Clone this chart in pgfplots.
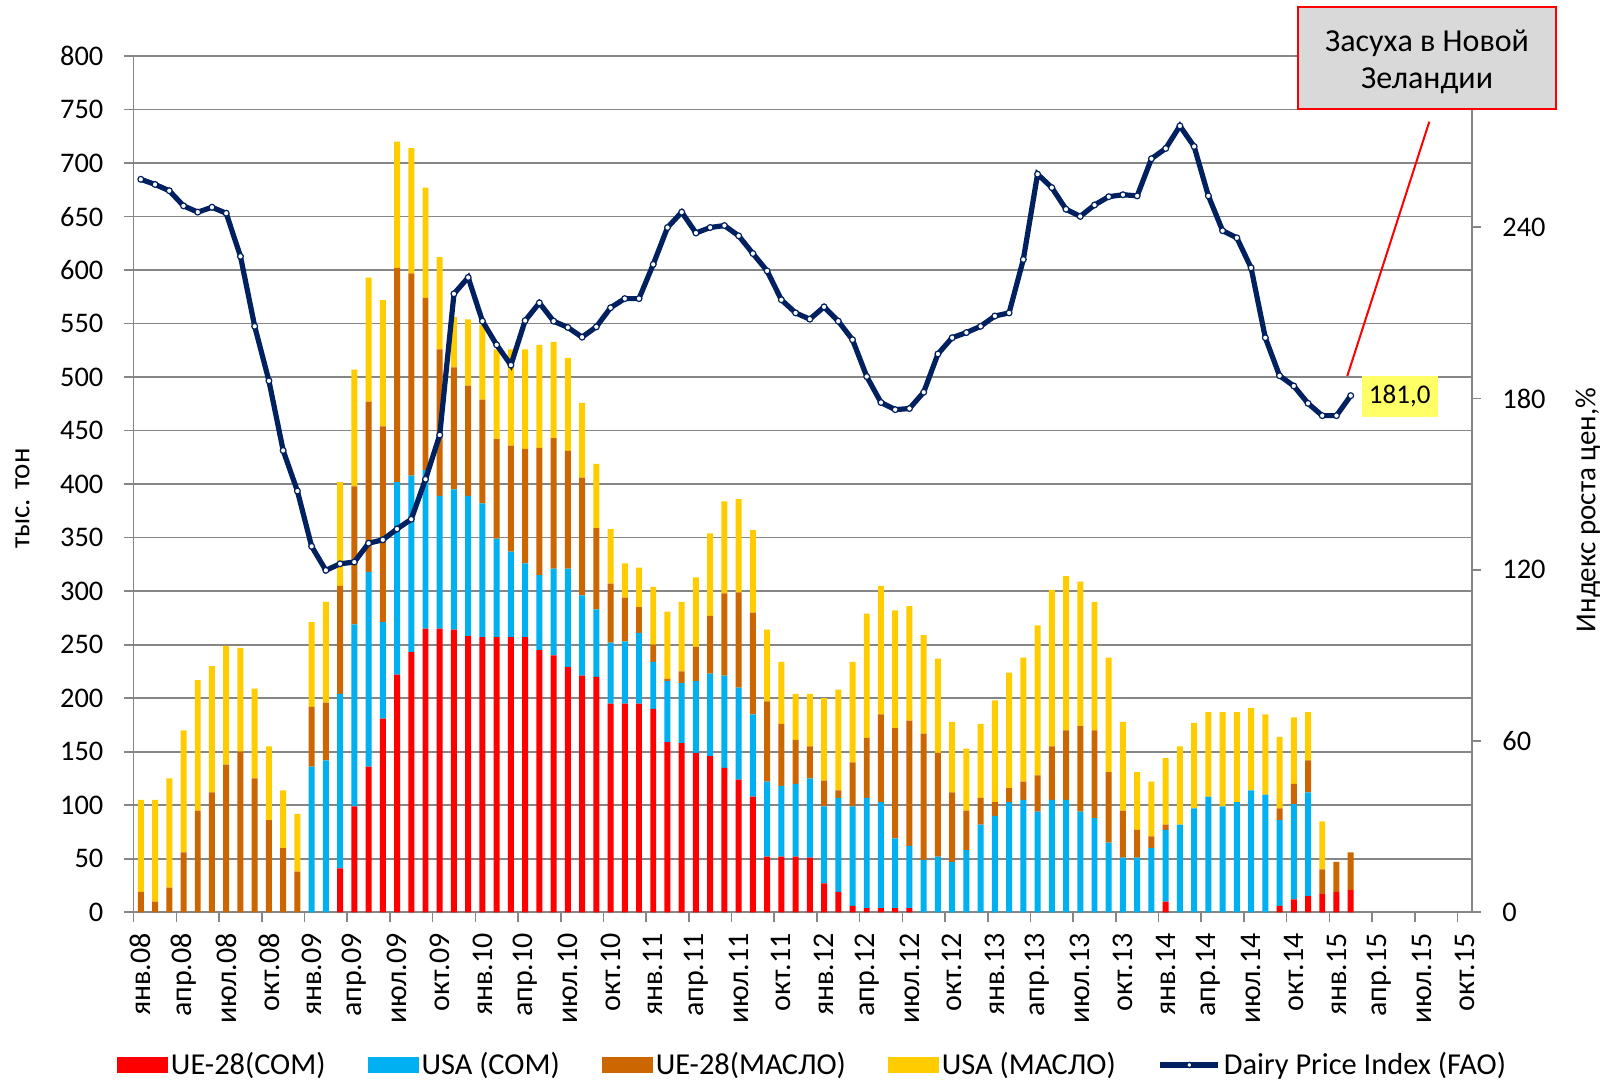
\documentclass[border=0pt]{standalone}
\usepackage{fontspec}
\setmainfont{Carlito}
\usepackage{pgfplots}
\pgfplotsset{compat=1.18}
\usepackage{pgfplotstable}

\definecolor{cRed}{RGB}{255,0,0}
\definecolor{cBlue}{RGB}{0,176,240}
\definecolor{cOrange}{RGB}{204,102,0}
\definecolor{cYellow}{RGB}{255,204,0}
\definecolor{cNavy}{RGB}{0,32,96}
\definecolor{cGrid}{RGB}{134,134,134}
\definecolor{cBox}{RGB}{217,217,217}
\definecolor{cLabel}{RGB}{255,255,102}

\pgfplotsset{
  barleg/.style={legend image code/.code={\fill[##1,draw=none] (0pt,-4pt) rectangle (25.5pt,4pt);}},
  linleg/.style={legend image code/.code={\draw[##1] (0pt,0pt) -- (29pt,0pt);
      \fill[white,draw=cNavy,line width=0.7pt] (14.5pt,0pt) circle (1.3pt);}},
}

\pgfplotstableread{
m uec usc ueb usb idx
0 0 0 19 86 256.8
1 0 0 10 95 255.0
2 0 0 23 102 252.8
3 0 0 56 114 247.5
4 0 0 95 122 245.3
5 0 0 112 118 247.0
6 0 0 138 111 244.9
7 0 0 150 97 229.8
8 0 0 125 84 205.3
9 0 0 86 69 186.2
10 0 0 60 54 161.8
11 0 0 38 54 147.6
12 0 136 56 79 128.2
13 0 142 54 94 119.8
14 41 163 101 97 122.1
15 99 170 129 109 122.7
16 136 182 159 116 129.3
17 181 90 183 118 130.5
18 222 180 200 118 134.3
19 243 165 189 117 137.7
20 265 148 161 103 151.7
21 265 124 137 86 167.2
22 264 131 114 47 216.7
23 258 131 103 62 222.4
24 257 125 97 70 207.1
25 257 92 93 84 198.8
26 257 80 99 90 191.7
27 257 69 107 93 207.3
28 245 70 119 96 213.5
29 240 81 122 90 207.1
30 229 92 110 87 204.9
31 221 75 110 70 201.5
32 220 63 76 60 205.1
33 195 57 55 51 211.8
34 195 58 41 32 215.0
35 195 66 24 37 215.0
36 190 44 16 54 227.0
37 159 57 2 63 239.9
38 158 56 11 65 245.3
39 149 67 32 65 238.0
40 146 77 54 77 239.9
41 135 86 77 86 240.6
42 124 86 89 87 237.0
43 108 77 95 77 230.8
44 52 70 75 67 224.7
45 52 66 58 58 214.6
46 52 68 41 43 210.0
47 51 74 30 49 207.8
48 27 72 24 77 212.1
49 19 88 7 94 207.1
50 6 93 41 94 200.6
51 4 103 56 116 187.7
52 4 99 82 120 178.6
53 4 65 103 110 176.1
54 4 58 117 107 176.5
55 0 49 118 92 182.2
56 0 52 97 88 195.6
57 0 47 65 66 201.3
58 0 58 37 58 203.1
59 0 82 25 69 205.3
60 0 90 13 95 208.9
61 0 103 13 108 210.0
62 0 105 17 116 228.7
63 0 94 34 140 258.6
64 0 105 50 146 253.9
65 0 105 65 144 246.3
66 0 94 80 135 243.8
67 0 88 82 120 247.8
68 0 65 66 107 250.7
69 0 51 44 83 251.4
70 0 51 26 54 251.0
71 0 60 11 51 264.0
72 10 67 5 62 267.6
73 0 82 0 73 275.5
74 0 97 0 80 268.3
75 0 108 0 79 251.0
76 0 99 0 88 238.8
77 0 103 0 84 236.3
78 0 114 0 77 225.8
79 0 110 0 75 201.3
80 6 80 11 67 188.0
81 12 89 19 62 184.4
82 15 97 30 45 178.3
83 17 0 23 45 174.0
84 19 0 28 0 174.0
85 21 0 35 0 181.0
}\data

\begin{document}
\begin{tikzpicture}
\useasboundingbox (-66.85pt,-84.35pt) rectangle (737.15pt,456.15pt);
\begin{axis}[
  at={(0pt,0pt)}, anchor=south west,
  scale only axis, width=669pt, height=428.15pt,
  xmin=-0.5, xmax=93.5, ymin=0, ymax=800,
  ybar stacked, bar width=0.42,
  axis x line*=bottom, axis y line*=left,
  axis line style={cGrid, line width=0.8pt, -},
  tick align=outside, major tick length=5pt,
  tick style={cGrid, line width=0.8pt},
  ytick={0,50,...,800},
  ymajorgrids, grid style={cGrid, line width=0.8pt},
  /pgf/number format/assume math mode=true,
  yticklabel style={font=\fontsize{14.2}{16}\selectfont, anchor=east, inner sep=0pt, xshift=-10pt},
  xtick={-0.5,2.5,...,92.5}, xticklabels={},
  extra x ticks={0,3,...,93},
  extra x tick labels={янв.08,апр.08,июл.08,окт.08,янв.09,апр.09,июл.09,окт.09,янв.10,апр.10,июл.10,окт.10,янв.11,апр.11,июл.11,окт.11,янв.12,апр.12,июл.12,окт.12,янв.13,апр.13,июл.13,окт.13,янв.14,апр.14,июл.14,окт.14,янв.15,апр.15,июл.15,окт.15},
  extra x tick style={major tick length=0pt,
    xticklabel style={font=\fontsize{15}{17}\selectfont, yshift=-10.2pt, rotate=90, anchor=east, inner sep=0pt}},
  ylabel={тыс. тон},
  ylabel style={at={(axis description cs:-0.0831,0.4832)}, anchor=center, font=\fontsize{14.5}{16}\selectfont},
  legend columns=5,
  legend style={at={(axis description cs:0.5066,-0.1783)}, anchor=center, draw=none, fill=none,
    font=\fontsize{15.2}{17}\selectfont, nodes={inner sep=0pt},
    /tikz/every odd column/.append style={column sep=1.5pt},
    /tikz/every even column/.append style={column sep=21pt}},
]
\addplot[fill=cRed, draw=none, barleg] table[x=m, y=uec] {\data};
\addplot[fill=cBlue, draw=none, barleg] table[x=m, y=usc] {\data};
\addplot[fill=cOrange, draw=none, barleg] table[x=m, y=ueb] {\data};
\addplot[fill=cYellow, draw=none, barleg] table[x=m, y=usb] {\data};
\addlegendimage{cNavy, line width=2.6pt, linleg}
\legend{UE-28(COM), USA (COM), UE-28(МАСЛО), USA (МАСЛО), Dairy Price Index (FAO)}
\end{axis}
\begin{axis}[
  at={(0pt,0pt)}, anchor=south west,
  scale only axis, width=669pt, height=428.15pt,
  xmin=-0.5, xmax=93.5, ymin=0, ymax=300,
  axis x line=none, axis y line*=right,
  axis line style={cGrid, line width=0.8pt, -},
  tick align=outside, major tick length=4.5pt,
  tick style={cGrid, line width=0.8pt},
  ytick={0,60,...,240},
  /pgf/number format/assume math mode=true,
  yticklabel style={font=\fontsize{14.2}{16}\selectfont, anchor=west, inner sep=0pt, xshift=10.65pt},
  ylabel={Индекс роста цен,\%},
  ylabel style={at={(axis description cs:1.0869,0.4698)}, anchor=center, font=\fontsize{14.5}{16}\selectfont},
]
\addplot[cNavy, line width=2.6pt, mark=*, mark size=1.45pt,
  mark options={fill=white, draw=cNavy, line width=0.6pt}] table[x=m, y=idx] {\data};
\end{axis}
\draw[cRed, line width=1pt] (647.8pt,395.3pt) -- (606.8pt,268.15pt);
\node[draw=cRed, line width=1pt, fill=cBox, minimum width=128.85pt, minimum height=51pt,
  inner sep=0pt] at (646.7pt,427pt) {};
\node[inner sep=0pt, align=center, font=\fontsize{16}{18.8}\selectfont] at (646.7pt,425.2pt) {Засуха в Новой\\Зеландии};
\node[fill=cLabel, minimum width=38pt, minimum height=20.35pt, inner sep=0pt,
  font=\fontsize{13.5}{15}\selectfont] at (633pt,258pt) {181,0};
\end{tikzpicture}
\end{document}
